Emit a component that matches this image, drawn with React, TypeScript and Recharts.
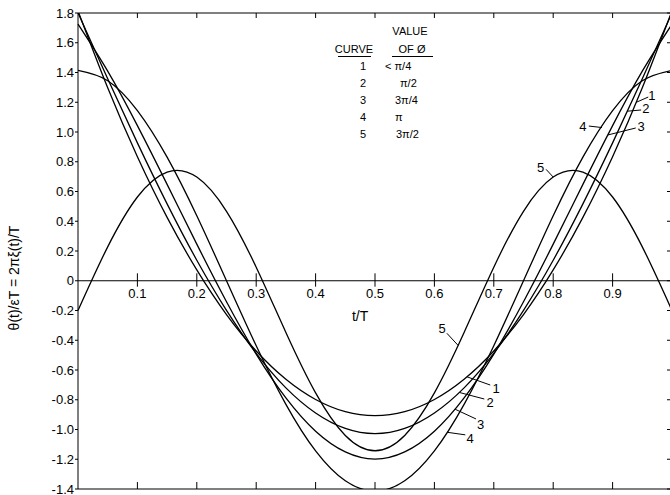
import { LineChart, Line, XAxis, YAxis, ReferenceLine, ReferenceDot } from 'recharts';

// t/T sample points, every 0.05 of a period
const tValues = [0, 0.05, 0.1, 0.15, 0.2, 0.25, 0.3, 0.35, 0.4, 0.45, 0.5, 0.55, 0.6, 0.65, 0.7, 0.75, 0.8, 0.85, 0.9, 0.95, 1];

// θ(t)/εT
const curve1 = [1.814, 1.297, 0.834, 0.426, 0.073, -0.227, -0.472, -0.662, -0.798, -0.88, -0.907, -0.88, -0.798, -0.662, -0.472, -0.227, 0.073, 0.426, 0.834, 1.297, 1.814];
const curve2 = [1.801, 1.358, 0.927, 0.517, 0.138, -0.199, -0.488, -0.72, -0.889, -0.993, -1.028, -0.993, -0.889, -0.72, -0.488, -0.199, 0.138, 0.517, 0.927, 1.358, 1.801];
const curve3 = [1.725, 1.409, 1.043, 0.648, 0.246, -0.141, -0.493, -0.788, -1.012, -1.151, -1.199, -1.151, -1.012, -0.788, -0.493, -0.141, 0.246, 0.648, 1.043, 1.409, 1.725];
const curve4 = [1.414, 1.345, 1.144, 0.831, 0.437, 0, -0.437, -0.831, -1.144, -1.345, -1.414, -1.345, -1.144, -0.831, -0.437, 0, 0.437, 0.831, 1.144, 1.345, 1.414];
const curve5 = [-0.2, 0.228, 0.563, 0.731, 0.697, 0.467, 0.091, -0.348, -0.754, -1.04, -1.143, -1.04, -0.754, -0.348, 0.091, 0.467, 0.697, 0.731, 0.563, 0.228, -0.2];

const curveIds = ['1', '2', '3', '4', '5'];
const phiLabels = ['< π/4', 'π/2', '3π/4', 'π', '3π/2'];

const xTicks = [0.1, 0.2, 0.3, 0.4, 0.5, 0.6, 0.7, 0.8, 0.9];
const yTicks = [1.8, 1.6, 1.4, 1.2, 1.0, 0.8, 0.6, 0.4, 0.2, 0, -0.2, -0.4, -0.6, -0.8, -1.0, -1.2, -1.4];

// curve tags on the plot: text spot and leader line, in (t/T, value)
const tags = [
  { id: '1', at: [0.704, -0.721], from: [0.655, -0.646], to: [0.694, -0.701] },
  { id: '2', at: [0.694, -0.815], from: [0.642, -0.751], to: [0.684, -0.795] },
  { id: '3', at: [0.678, -0.963], from: [0.635, -0.864], to: [0.67, -0.929] },
  { id: '4', at: [0.66, -1.063], from: [0.622, -1.019], to: [0.652, -1.036] },
  { id: '1', at: [0.966, 1.248], from: [0.94, 1.2], to: [0.96, 1.235] },
  { id: '2', at: [0.956, 1.161], from: [0.925, 1.14], to: [0.948, 1.148] },
  { id: '3', at: [0.948, 1.04], from: [0.892, 0.98], to: [0.939, 1.027] },
  { id: '4', at: [0.85, 1.04], from: [0.86, 1.04], to: [0.882, 1.03] },
  { id: '5', at: [0.779, 0.765], from: [0.788, 0.749], to: [0.8, 0.697] },
  { id: '5', at: [0.613, -0.32], from: [0.621, -0.353], to: [0.64, -0.435] },
];

const ink = '#000';
const font = '"Liberation Sans", Arial, sans-serif';
const blank = () => '';

export default function App() {
  const data = tValues.map((t, i) => ({
    t,
    c1: curve1[i],
    c2: curve2[i],
    c3: curve3[i],
    c4: curve4[i],
    c5: curve5[i],
  }));
  const keys = ['c1', 'c2', 'c3', 'c4', 'c5'];

  return (
    <div
      style={{
        position: 'fixed',
        left: 0,
        top: 0,
        width: 670,
        height: 495,
        overflow: 'hidden',
        background: '#fff',
        fontFamily: font,
      }}
    >
      <LineChart width={700} height={495} data={data} margin={{ top: 13, right: 28, bottom: 6, left: 0 }}>
        <XAxis dataKey="t" type="number" domain={[0, 1]} ticks={xTicks} mirror tickSize={7} tickFormatter={blank} stroke={ink} />
        <XAxis xAxisId="top" orientation="top" dataKey="t" type="number" domain={[0, 1]} ticks={xTicks} mirror tickSize={5} tickFormatter={blank} stroke={ink} />
        <YAxis
          type="number"
          domain={[-1.4, 1.8]}
          ticks={yTicks}
          interval={0}
          allowDataOverflow
          width={78}
          tickSize={3}
          tickMargin={1}
          stroke={ink}
          tick={{ fill: ink, fontSize: 13, fontFamily: font }}
          tickFormatter={(v: number) => (v === 0 ? '0' : v.toFixed(1))}
        />
        <YAxis yAxisId="right" orientation="right" type="number" domain={[-1.4, 1.8]} ticks={yTicks} interval={0} allowDataOverflow mirror tickSize={5} tickFormatter={blank} stroke={ink} />

        <ReferenceLine y={0} stroke={ink} strokeWidth={1.2} />
        {xTicks.map((v) => (
          <ReferenceLine
            key={'zt' + v}
            segment={[{ x: v, y: -0.04 }, { x: v, y: 0.05 }]}
            stroke={ink}
            label={{ value: v.toFixed(1), position: 'bottom', offset: 2, fill: ink, fontSize: 13, fontFamily: font }}
          />
        ))}
        <ReferenceDot x={0.475} y={-0.237} r={0} fill="none" stroke="none" label={{ value: 't/T', position: 'center', fill: ink, fontSize: 14, fontFamily: font }} />

        {keys.map((k) => (
          <Line key={k} dataKey={k} type="natural" stroke={ink} strokeWidth={1.3} dot={false} isAnimationActive={false} />
        ))}

        {tags.map((g, i) => (
          <ReferenceLine key={'lead' + i} segment={[{ x: g.from[0], y: g.from[1] }, { x: g.to[0], y: g.to[1] }]} stroke={ink} strokeWidth={1} />
        ))}
        {tags.map((g, i) => (
          <ReferenceDot
            key={'tag' + i}
            x={g.at[0]}
            y={g.at[1]}
            r={0}
            fill="none"
            stroke="none"
            label={{ value: g.id, position: 'center', fill: ink, fontSize: 13, fontFamily: font }}
          />
        ))}
      </LineChart>

      <svg width={670} height={495} style={{ position: 'absolute', left: 0, top: 0, pointerEvents: 'none' }}>
        <text transform="translate(19,278) rotate(-90)" textAnchor="middle" fontSize={14} fill={ink} fontFamily={font}>
          θ(t)/εT = 2πξ(t)/T
        </text>
        <g fontSize={11} fill={ink} fontFamily={font}>
          <text x={410} y={35} textAnchor="middle">VALUE</text>
          <text x={354} y={53} textAnchor="middle">CURVE</text>
          <text x={412} y={53} textAnchor="middle">OF Ø</text>
          <line x1={338} y1={56.5} x2={371} y2={56.5} stroke={ink} />
          <line x1={392} y1={56.5} x2={433} y2={56.5} stroke={ink} />
          {curveIds.map((c, i) => (
            <text key={'cid' + c} x={363} y={70 + i * 17} textAnchor="middle">{c}</text>
          ))}
          {phiLabels.map((p, i) => (
            <text key={'phi' + i} x={[385, 400, 395, 395, 396][i]} y={70 + i * 17}>{p}</text>
          ))}
        </g>
      </svg>
    </div>
  );
}
